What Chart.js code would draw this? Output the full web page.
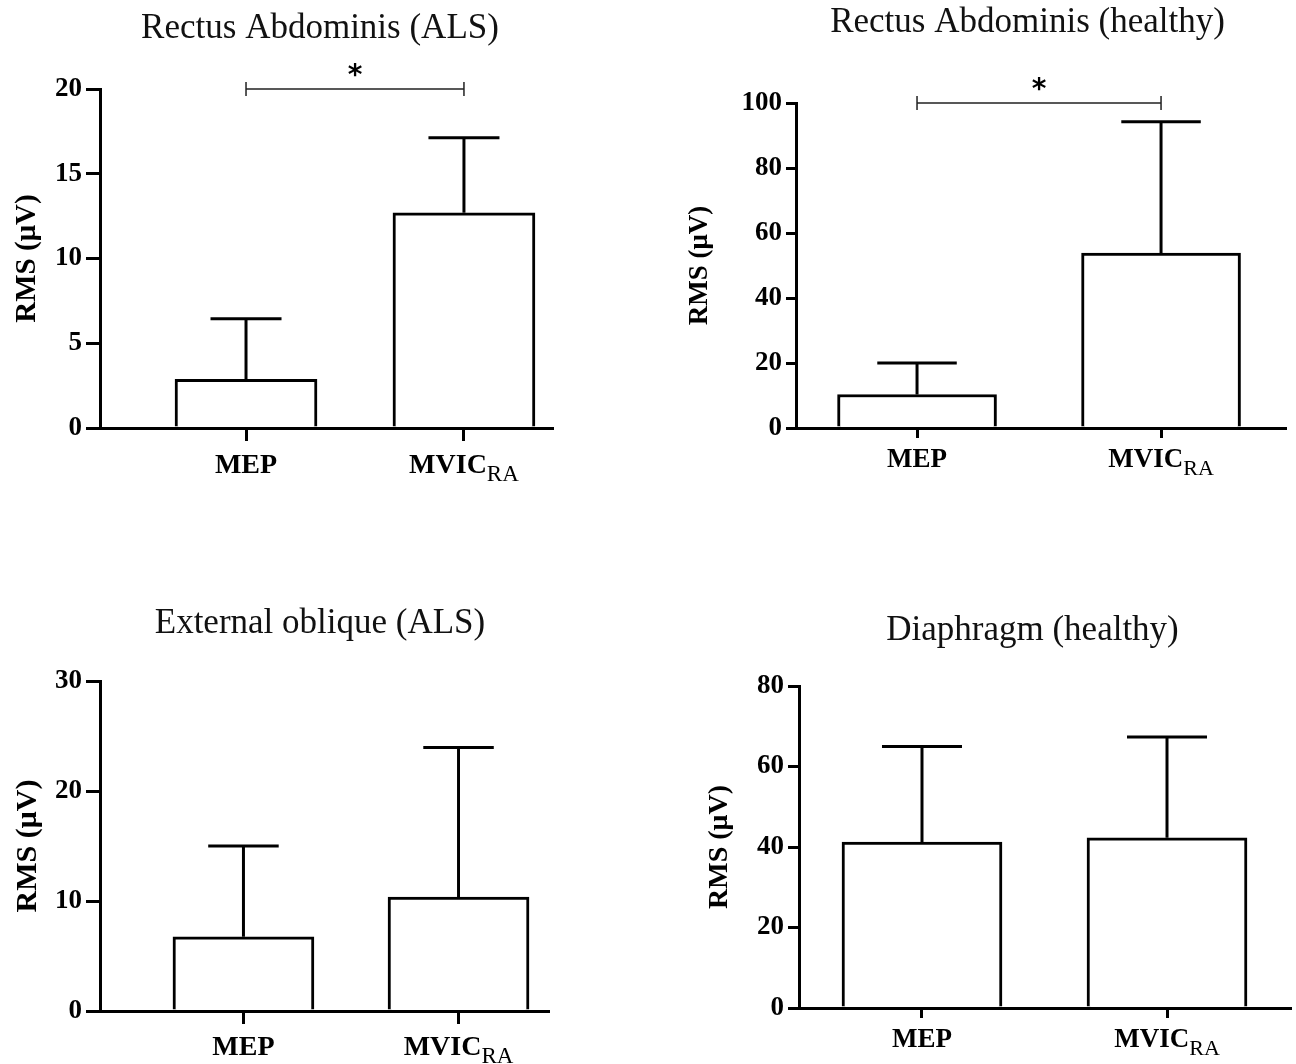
<!DOCTYPE html>
<html><head><meta charset="utf-8">
<script src="https://cdn.jsdelivr.net/npm/chart.js@4"></script>
<style>
html,body{margin:0;padding:0;background:#fff;}
#wrap{position:relative;width:1296px;height:1064px;background:#fff;}
canvas{position:absolute;}
</style></head><body><div id="wrap">
<canvas id="c0" width="648" height="532" style="left:0;top:0"></canvas>
<canvas id="c1" width="648" height="532" style="left:648px;top:0"></canvas>
<canvas id="c2" width="648" height="532" style="left:0;top:532px"></canvas>
<canvas id="c3" width="648" height="532" style="left:648px;top:532px"></canvas>
</div>
<script>
// ---- data ----
const categories = ['MEP', 'MVIC'];
const categorySubscripts = ['', 'RA'];
const titles = ['Rectus Abdominis (ALS)', 'Rectus Abdominis (healthy)', 'External oblique (ALS)', 'Diaphragm (healthy)'];
const yAxisTitle = 'RMS (μV)';
const raAlsMean = [2.87, 12.7];
const raAlsSd = [3.58, 4.43];
const raHealthyMean = [10.3, 53.8];
const raHealthySd = [9.7, 40.4];
const eoAlsMean = [6.75, 10.35];
const eoAlsSd = [8.25, 13.6];
const diaHealthyMean = [41.2, 42.3];
const diaHealthySd = [23.8, 25.0];
const yMaxes = [20, 100, 30, 80];
const ySteps = [5, 20, 10, 20];
const sigLabels = ['*', '*', '', ''];
const sigLevels = [20, 100, null, null];

const seriesMeans = [raAlsMean, raHealthyMean, eoAlsMean, diaHealthyMean];
const seriesSd = [raAlsSd, raHealthySd, eoAlsSd, diaHealthySd];

// ---- layout / style ----
const W = 648, H = 532;
const panels = [
  {id:'c0', left:100, right:552, top:89, bottom:428, xMin:-0.67, xMax:1.404, bar:142, tick:14, xTick:13, yTitleX:28, yTitleSize:29, labelSize:28, subSize:23, labelOffset:45, titleX:320, titleBase:38},
  {id:'c1', left:148, right:637, top:103, bottom:428, xMin:-0.496, xMax:1.508, bar:159, tick:10, xTick:10, yTitleX:52, yTitleSize:27, labelSize:27, subSize:22, labelOffset:39, titleX:379.5, titleBase:32},
  {id:'c2', left:100, right:548, top:149, bottom:479, xMin:-0.667, xMax:1.416, bar:141, tick:14, xTick:13, yTitleX:28, yTitleSize:30, labelSize:28, subSize:23, labelOffset:44, titleX:320, titleBase:101},
  {id:'c3', left:151, right:642, top:154, bottom:476, xMin:-0.502, xMax:1.502, bar:160, tick:11, xTick:10, yTitleX:72, yTitleSize:28, labelSize:27, subSize:22, labelOffset:39, titleX:384.5, titleBase:108}
];

Chart.defaults.font.family = '"Liberation Serif", "Times New Roman", serif';
Chart.defaults.color = '#000';

const annotPlugin = {
  id: 'annot',
  afterDatasetsDraw(chart, args, o) {
    const ctx = chart.ctx, meta = chart.getDatasetMeta(0), ys = chart.scales.y;
    ctx.save();
    ctx.strokeStyle = '#000'; ctx.lineWidth = 3; ctx.lineCap = 'butt';
    meta.data.forEach((bar, i) => {
      const m = o.means[i], s = o.sd[i];
      const px = bar.x, y0 = ys.getPixelForValue(m), y1 = ys.getPixelForValue(m + s);
      const half = bar.width * 0.25;
      ctx.beginPath(); ctx.moveTo(px, y0); ctx.lineTo(px, y1); ctx.stroke();
      ctx.beginPath(); ctx.moveTo(px - half, y1); ctx.lineTo(px + half, y1); ctx.stroke();
    });
    ctx.restore();
  },
  afterDraw(chart, args, o) {
    const ctx = chart.ctx, xs = chart.scales.x, ys = chart.scales.y, area = chart.chartArea;
    ctx.save();
    ctx.font = '35px "Liberation Serif"';
    ctx.textAlign = 'center'; ctx.textBaseline = 'alphabetic';
    ctx.fillStyle = '#111';
    ctx.fillText(o.title, o.titleX, o.titleBase);
    ctx.fillStyle = '#000';
    const mainFont = 'bold ' + o.labelSize + 'px "Liberation Serif"';
    const subFont = o.subSize + 'px "Liberation Serif"';
    categories.forEach((c, i) => {
      const px = xs.getPixelForValue(i);
      const base = area.bottom + o.labelOffset;
      ctx.font = mainFont; const w1 = ctx.measureText(c).width;
      const sub = categorySubscripts[i];
      ctx.font = subFont; const w2 = sub ? ctx.measureText(sub).width : 0;
      const start = px - (w1 + w2) / 2;
      ctx.textAlign = 'left';
      ctx.font = mainFont; ctx.fillText(c, start, base);
      if (sub) { ctx.font = subFont; ctx.fillText(sub, start + w1, base + 8); }
    });
    if (o.sigLevel !== null) {
      const xa = xs.getPixelForValue(0), xb = xs.getPixelForValue(1);
      const yb = ys.getPixelForValue(o.sigLevel);
      ctx.strokeStyle = '#222'; ctx.lineWidth = 1.5;
      ctx.beginPath();
      ctx.moveTo(xa, yb); ctx.lineTo(xb, yb);
      ctx.moveTo(xa, yb - 7); ctx.lineTo(xa, yb + 7);
      ctx.moveTo(xb, yb - 7); ctx.lineTo(xb, yb + 7);
      ctx.stroke();
      ctx.font = 'bold 28px "DejaVu Sans"'; ctx.textAlign = 'center'; ctx.textBaseline = 'alphabetic';
      ctx.fillText(o.sigLabel, (xa + xb) / 2, yb - 5);
    }
    ctx.restore();
  }
};

panels.forEach((p, k) => {
  const canvas = document.getElementById(p.id);
  new Chart(canvas, {
    type: 'bar',
    data: {
      labels: categories,
      datasets: [{
        data: seriesMeans[k].map((v, i) => ({x: i, y: v})),
        backgroundColor: '#fff', borderColor: '#000', borderWidth: 3,
        barThickness: p.bar
      }]
    },
    options: {
      responsive: false, animation: false, devicePixelRatio: 1, events: [],
      layout: {padding: {left: 0, top: p.top, right: W - p.right, bottom: H - p.bottom - 40}},
      plugins: {
        legend: {display: false}, tooltip: {enabled: false}, title: {display: false},
        annot: {means: seriesMeans[k], sd: seriesSd[k], title: titles[k], titleX: p.titleX, titleBase: p.titleBase,
                labelSize: p.labelSize, subSize: p.subSize, labelOffset: p.labelOffset,
                sigLevel: sigLevels[k], sigLabel: sigLabels[k]}
      },
      scales: {
        x: {
          type: 'linear', min: p.xMin, max: p.xMax, offset: false, bounds: 'data',
          afterBuildTicks: s => { s.ticks = categories.map((c, i) => ({value: i})); },
          afterFit: s => { s.height = 40; },
          ticks: {display: false},
          grid: {display: true, drawOnChartArea: false, drawTicks: true, tickLength: p.xTick, color: '#000', lineWidth: 3, offset: false},
          border: {display: true, color: '#000', width: 3, z: 1}
        },
        y: {
          min: 0, max: yMaxes[k],
          afterFit: s => { s.width = p.left; },
          ticks: {stepSize: ySteps[k], font: {size: 27, weight: 'bold'}, color: '#000', padding: 4},
          grid: {drawOnChartArea: false, drawTicks: true, tickLength: p.tick, color: '#000', lineWidth: 3},
          border: {display: true, color: '#000', width: 3},
          title: {display: true, text: yAxisTitle, font: {size: p.yTitleSize, weight: 'bold'}, color: '#000',
                  padding: {top: p.yTitleX - p.yTitleSize * 0.6, bottom: 0}}
        }
      }
    },
    plugins: [annotPlugin]
  });
});
</script>
</body></html>
